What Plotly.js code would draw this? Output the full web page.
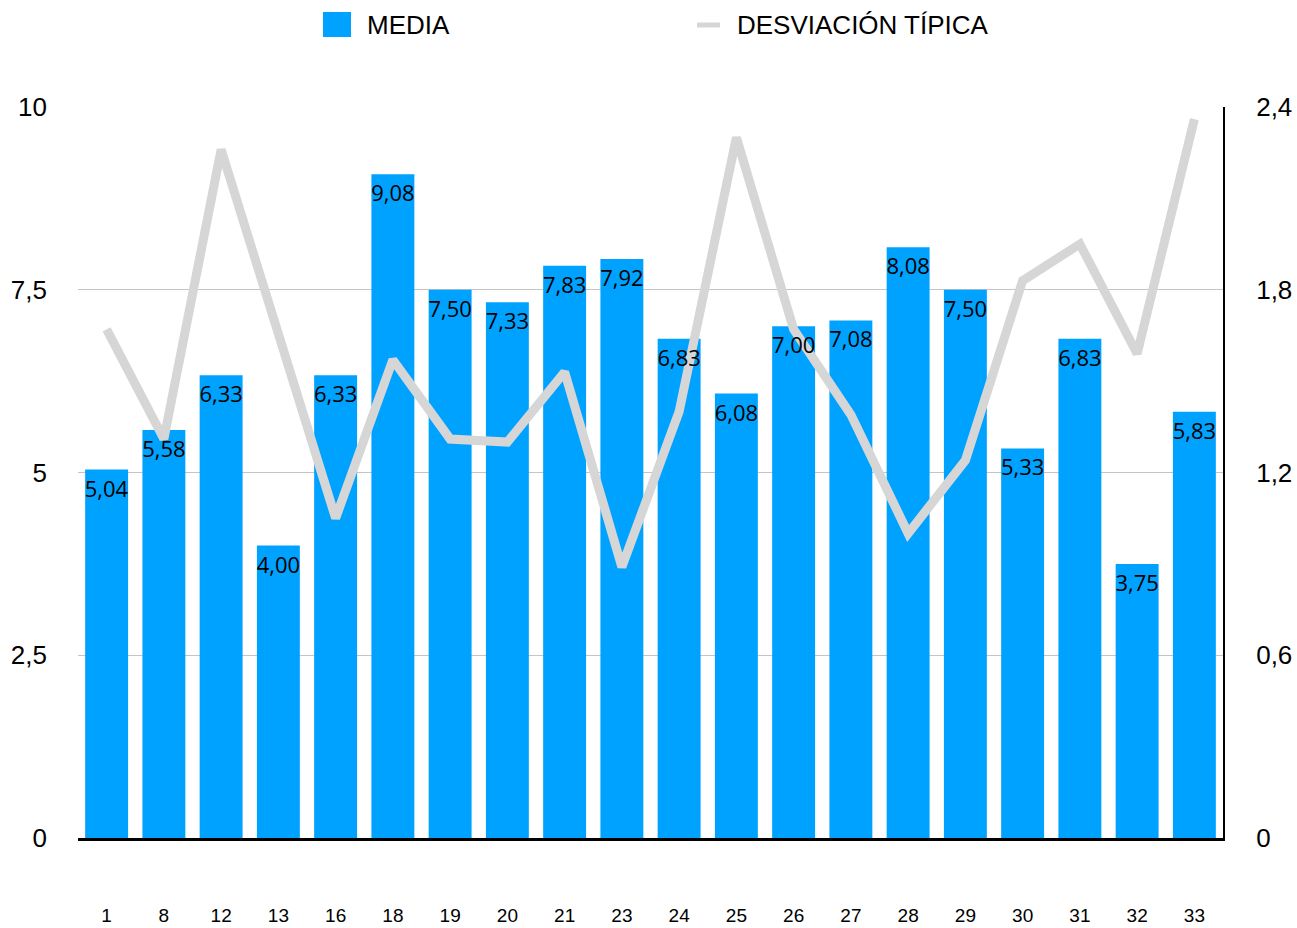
<!DOCTYPE html>
<html>
<head>
<meta charset="utf-8">
<script src="https://cdn.plot.ly/plotly-3.0.1.min.js"></script>
<style>html,body{margin:0;padding:0;background:#fff;}#chart{width:1297px;height:928px;}</style>
</head>
<body>
<div id="chart"></div>
<script>
var categories = ['1','8','12','13','16','18','19','20','21','23','24','25','26','27','28','29','30','31','32','33'];
var media = [5.04,5.58,6.33,4.00,6.33,9.08,7.50,7.33,7.83,7.92,6.83,6.08,7.00,7.08,8.08,7.50,5.33,6.83,3.75,5.83];
var desviacion = [1.67,1.31,2.26,1.66,1.05,1.57,1.31,1.30,1.53,0.89,1.40,2.30,1.67,1.39,1.00,1.24,1.83,1.95,1.59,2.36];
var leftTicks = [0,2.5,5,7.5,10];
var rightTicks = [0,0.6,1.2,1.8,2.4];
var seriesNames = ['MEDIA','DESVIACIÓN TÍPICA'];

var blue = '#00a2ff';
var grey = '#d6d6d6';
var font = 'Liberation Sans, Arial, Helvetica, sans-serif';

var traces = [
  {
    type: 'bar', name: seriesNames[0], x: categories, y: media,
    marker: {color: blue}, showlegend: false
  },
  {
    type: 'scatter', mode: 'lines', name: seriesNames[1], x: categories, y: desviacion,
    yaxis: 'y2', line: {color: grey, width: 9}, showlegend: false
  },
  {
    type: 'bar', name: seriesNames[0], x: categories, y: media, yaxis: 'y3',
    marker: {color: 'rgba(0,0,0,0)'},
    texttemplate: '%{y:.2f}', textposition: 'inside', insidetextanchor: 'end',
    textangle: 0, constraintext: 'none',
    textfont: {family: 'Open Sans, Noto Sans, sans-serif', size: 22, color: '#000'},
    showlegend: false, hoverinfo: 'skip'
  }
];

function px2x(p){ return (p - 78) / 1145; }
function px2y(p){ return (838 - p) / 731; }

var layout = {
  width: 1297, height: 928,
  margin: {l: 78, r: 74, t: 107, b: 90},
  paper_bgcolor: '#fff', plot_bgcolor: '#fff',
  separators: ', ',
  bargap: 0.25,
  font: {family: font, size: 24, color: '#000'},
  xaxis: {
    type: 'category', range: [-0.5, categories.length - 0.5],
    showline: true, linecolor: '#000', linewidth: 3,
    ticks: '', showgrid: false, zeroline: false,
    tickfont: {family: font, size: 19, color: '#000'},
    ticklabelstandoff: 58
  },
  yaxis: {
    range: [0, 10], tickvals: leftTicks, tickformat: '~g',
    showgrid: true, gridcolor: '#c4c4c4', gridwidth: 1,
    zeroline: false, showline: false, ticks: '',
    tickfont: {family: font, size: 26, color: '#000'},
    ticklabelstandoff: 30
  },
  yaxis2: {
    overlaying: 'y', side: 'right', range: [0, 2.4], tickvals: rightTicks, tickformat: '~g',
    showgrid: false, zeroline: false, showline: true, linecolor: '#000', linewidth: 2,
    ticks: '', tickfont: {family: font, size: 26, color: '#000'},
    ticklabelstandoff: 26
  },
  yaxis3: {
    overlaying: 'y', range: [0, 10], visible: false, showgrid: false, zeroline: false
  },
  shapes: [
    {type: 'rect', xref: 'paper', yref: 'paper', x0: px2x(323), x1: px2x(351), y0: px2y(37), y1: px2y(12),
     fillcolor: blue, line: {width: 0}},
    {type: 'line', xref: 'paper', yref: 'paper', x0: px2x(697), x1: px2x(720), y0: px2y(25), y1: px2y(25),
     line: {color: grey, width: 5}}
  ],
  annotations: [
    {xref: 'paper', yref: 'paper', x: px2x(365), y: px2y(25), xanchor: 'left', yanchor: 'middle',
     text: seriesNames[0], showarrow: false, font: {family: font, size: 26, color: '#000'}},
    {xref: 'paper', yref: 'paper', x: px2x(735), y: px2y(25), xanchor: 'left', yanchor: 'middle',
     text: seriesNames[1], showarrow: false, font: {family: font, size: 26, color: '#000'}}
  ],
  showlegend: false
};

Plotly.newPlot('chart', traces, layout, {displayModeBar: false, staticPlot: true});
</script>
</body>
</html>
